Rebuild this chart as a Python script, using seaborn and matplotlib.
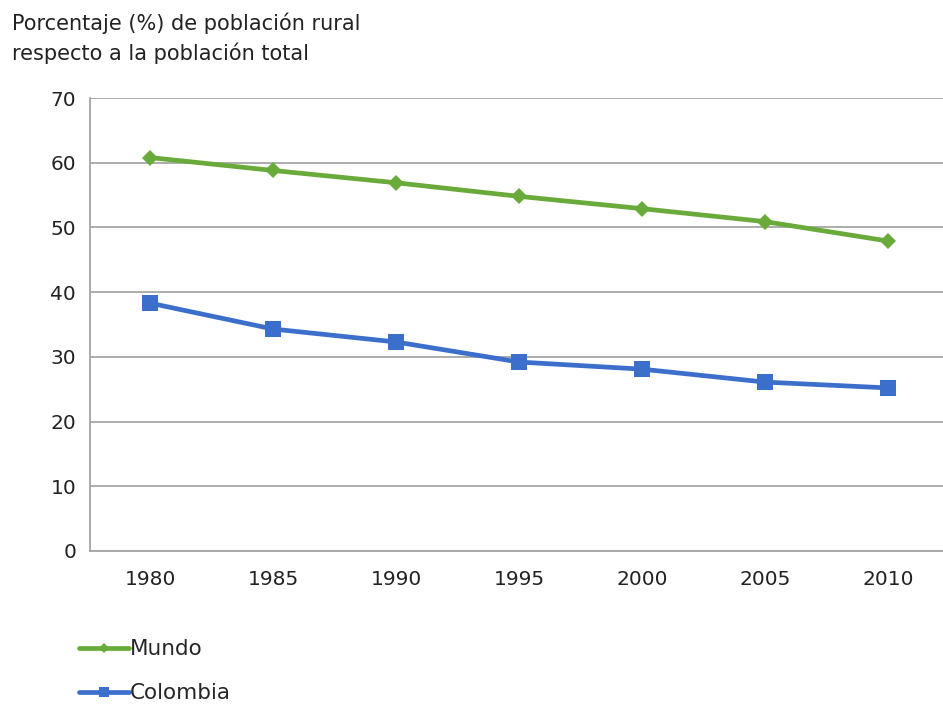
import pandas as pd
import matplotlib.pyplot as plt
import seaborn as sns

# values
years = [1980, 1985, 1990, 1995, 2000, 2005, 2010]
mundo = [60.8, 58.8, 56.9, 54.8, 52.9, 50.9, 47.9]
colombia = [38.3, 34.3, 32.3, 29.2, 28.1, 26.1, 25.2]
y_ticks = [0, 10, 20, 30, 40, 50, 60, 70]
title_lines = ["Porcentaje (%) de población rural", "respecto a la población total"]

df = pd.DataFrame({"year": years, "Mundo": mundo, "Colombia": colombia})

sns.set_style("white")
plt.rcParams["font.family"] = ["DejaVu Sans"]

fig = plt.figure(figsize=(9.43, 7.04), dpi=100)
ax = fig.add_axes([90 / 943, 1 - 551 / 704, 1 - 90 / 943, (551 - 98) / 704])

grid_col = "#a6a6a6"
ax.set_ylim(0, 70)
ax.set_yticks(y_ticks)
ax.yaxis.grid(True, color=grid_col, linewidth=1.3)
ax.set_axisbelow(True)

sns.lineplot(data=df, x="year", y="Mundo", ax=ax, color="#68ab3a",
             linewidth=3.4, marker="D", markersize=8, markeredgewidth=0,
             label="Mundo")
sns.lineplot(data=df, x="year", y="Colombia", ax=ax, color="#3c6fcb",
             linewidth=3.4, marker="s", markersize=11, markeredgewidth=0,
             label="Colombia")

step = years[1] - years[0]
ax.set_xlim(years[0] - 0.488 * step, years[0] + 6.447 * step)
ax.set_xticks(years)
ax.set_xlabel("")
ax.set_ylabel("")
ax.tick_params(axis="both", length=0, labelsize=14.5, colors="#222222")
ax.tick_params(axis="x", pad=14)
ax.tick_params(axis="y", pad=10)

for side in ["top", "right"]:
    ax.spines[side].set_visible(False)
for side in ["left", "bottom"]:
    ax.spines[side].set_color(grid_col)
    ax.spines[side].set_linewidth(1.3)

# two-line title at the top left
for i, line in enumerate(title_lines):
    fig.text(12 / 943, 1 - (30 + 30 * i) / 704, line, fontsize=15,
             color="#222222", ha="left", va="baseline")

leg = ax.legend(loc="upper left", bbox_to_anchor=(60 / 943, 1 - 620 / 704),
                bbox_transform=fig.transFigure, frameon=False, fontsize=15.5,
                handlelength=2.3, handletextpad=0.05, labelspacing=1.1,
                markerscale=0.7)

fig.savefig("out.png", dpi=100)
